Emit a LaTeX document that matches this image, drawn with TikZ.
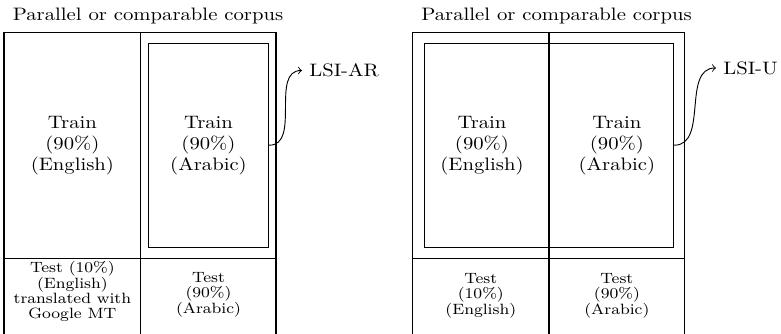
\documentclass[tikz,border=0pt]{standalone}
\usepackage{graphicx}
\newcommand\bigtxt[1]{\scalebox{1}[0.87]{\fontsize{10}{11.6}\selectfont\begin{tabular}{@{}c@{}}#1\end{tabular}}}
\newcommand\smalltxt[1]{\scalebox{1}[0.9]{\fontsize{8}{7.9}\selectfont\begin{tabular}{@{}c@{}}#1\end{tabular}}}
\begin{document}
\begin{tikzpicture}[x=0.483pt,y=-0.483pt,
  line/.style={draw, line width=0.5pt},
  inbox/.style={draw, line width=0.5pt, rectangle, inner sep=0pt},
  txt/.style={inner sep=0pt, align=center},
  lbl/.style={font=\fontsize{10}{12}\selectfont, anchor=west}]
\useasboundingbox (0,0) rectangle (781,334);
% ---------- left diagram ----------
\node[txt] (titleL) at (148,16) {\scalebox{1}[0.87]{\fontsize{10}{12}\selectfont Parallel or comparable corpus}};
\draw[line] (4,336) -- (4,32.3) -- (276,32.3) -- (276,336);
\draw[line] (140.5,32.3) -- (140.5,336);
\draw[line] (4,258.5) -- (276,258.5);
\node[inbox, minimum width=58.15pt, minimum height=98.4pt] (inL) at (208.5,145.2) {};
\node[txt] (trEnL) at (72.4,145) {\bigtxt{Train\\(90\%)\\(English)}};
\node[txt] (trArL) at (208.5,145) {\bigtxt{Train\\(90\%)\\(Arabic)}};
\node[txt] (teEnL) at (72.4,292) {\smalltxt{Test (10\%)\\(English)\\translated with\\Google MT}};
\node[txt] (teArL) at (208.5,295) {\smalltxt{Test\\(90\%)\\(Arabic)}};
\node[lbl] (lsiar) at (302,70.5) {\scalebox{1}[0.87]{LSI-AR}};
\draw[->, line width=0.45pt] (inL.east) to[out=0,in=180] (lsiar.west);
% ---------- right diagram ----------
\node[txt] (titleR) at (556.5,16) {\scalebox{1}[0.87]{\fontsize{10}{12}\selectfont Parallel or comparable corpus}};
\draw[line] (412.7,336) -- (412.7,32.3) -- (684.7,32.3) -- (684.7,336);
\draw[line] (549,32.3) -- (549,336);
\draw[line] (412.7,258.5) -- (684.7,258.5);
\node[inbox, minimum width=120.5pt, minimum height=98.5pt] (inR) at (549,145.2) {};
\node[txt] (trEnR) at (482,145) {\bigtxt{Train\\(90\%)\\(English)}};
\node[txt] (trArR) at (616.9,145) {\bigtxt{Train\\(90\%)\\(Arabic)}};
\node[txt] (teEnR) at (480.8,296) {\smalltxt{Test\\(10\%)\\(English)}};
\node[txt] (teArR) at (616.9,296) {\smalltxt{Test\\(90\%)\\(Arabic)}};
\node[lbl] (lsiu) at (716,68) {\scalebox{1}[0.87]{LSI-U}};
\draw[->, line width=0.45pt] (inR.east) to[out=0,in=180] (lsiu.west);
\end{tikzpicture}
\end{document}
